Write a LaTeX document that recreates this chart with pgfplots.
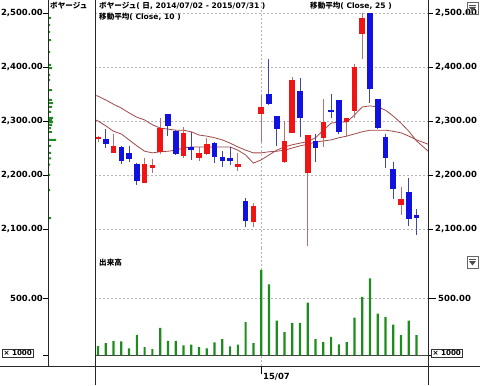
\documentclass[border=0pt]{standalone}
\usepackage{pgfplots}
\pgfplotsset{compat=1.18}
\usepackage{pgfplotstable}
\usepackage{fontspec}
\setmainfont{DejaVu Sans}
\newfontfamily\jp{Noto Sans CJK JP}
\definecolor{cred}{HTML}{F01414}
\definecolor{cblue}{HTML}{1212E0}
\definecolor{wred}{HTML}{B87070}
\definecolor{wblue}{HTML}{4048A0}
\definecolor{macol}{HTML}{A04848}
\definecolor{vgreen}{HTML}{1E8C1E}
\definecolor{gridc}{HTML}{B4B4B4}
\definecolor{basec}{HTML}{3A4A3A}

% red (up) candles: i open high low close
\pgfplotstableread{
i open high low close
0 2266 2273 2262 2271
2 2241 2276 2240 2254
6 2185 2231 2185 2220
7 2213 2230 2204 2219
8 2243 2306 2239 2287
11 2235 2289 2231 2278
13 2231 2252 2226 2241
14 2239 2269 2237 2257
18 2215 2241 2207 2220
20 2113 2148 2104 2143
21 2313 2348 2261 2326
24 2224 2300 2222 2263
25 2278 2381 2278 2376
27 2204 2274 2069 2274
29 2269 2341 2252 2298
32 2298 2306 2270 2306
33 2319 2406 2306 2400
34 2461 2500 2415 2491
39 2144 2178 2126 2156
}\redc
% blue (down) candles
\pgfplotstableread{
i open high low close
1 2267 2285 2250 2257
3 2252 2254 2220 2226
4 2241 2254 2224 2230
5 2220 2222 2181 2189
9 2313 2313 2272 2291
10 2281 2283 2237 2239
12 2252 2280 2228 2246
15 2259 2261 2222 2233
16 2233 2244 2215 2226
17 2231 2252 2219 2226
19 2152 2157 2104 2115
22 2350 2415 2330 2331
23 2309 2309 2254 2285
26 2356 2380 2270 2306
28 2263 2276 2224 2250
30 2320 2350 2306 2318
31 2339 2339 2276 2280
35 2500 2500 2333 2359
36 2341 2341 2285 2287
37 2270 2276 2213 2231
38 2211 2224 2156 2174
40 2169 2194 2106 2119
41 2126 2137 2089 2120
}\bluec
\pgfplotstableread{
i vol
0 78
1 105
2 125
3 119
4 58
5 177
6 70
7 52
8 238
9 125
10 125
11 84
12 90
13 70
14 58
15 110
16 140
17 76
18 90
19 288
20 105
21 747
22 619
23 302
24 200
25 282
26 282
27 459
28 140
29 113
30 160
31 93
32 113
33 328
34 509
35 672
36 363
37 334
38 267
39 174
40 302
41 174
}\volt

\newcommand{\tf}{\fontsize{8.5}{10}\selectfont\bfseries}
\newcommand{\hf}{\fontsize{7.6}{9}\selectfont\bfseries}

\pgfplotsset{
  gridline/.style={draw=gridc, dash pattern=on 2bp off 2bp, line width=0.6bp},
  panel/.style={scale only axis, axis line style={draw=none},
    tick align=outside, major tick length=5bp,
    tick style={draw=black, line width=0.7bp},
    yticklabel style={font=\tf, inner sep=0pt}},
}

\begin{document}
\begin{tikzpicture}[x=1bp,y=1bp]
\useasboundingbox (0,0) rectangle (480,385);

% ---------- price pane ----------
\begin{axis}[panel, at={(95bp,137bp)}, anchor=south west,
  width=333bp, height=248bp,
  xmin=-0.386, xmax=42.47, ymin=2064.8, ymax=2524.1,
  ytick={2100,2200,2300,2400,2500},
  yticklabels={{2,100.00},{2,200.00},{2,300.00},{2,400.00},{2,500.00}},
  ytick pos=right, yticklabel style={anchor=west, xshift=2bp},
  xtick={21}, xticklabels={}, x tick style={draw=none},
  xmajorgrids, ymajorgrids, grid style={gridline}, clip=true]
% MA25
\addplot[color=macol, line width=0.8bp, mark=none] coordinates {
(-0.5,2348) (0,2346) (1,2339) (2,2331) (3,2324) (4,2315) (5,2307) (6,2302)
(7,2293) (8,2287) (9,2285) (10,2283) (11,2283) (12,2280) (13,2274) (14,2272)
(15,2269) (16,2265) (17,2259) (18,2252) (19,2246) (20,2241) (21,2241) (22,2243)
(23,2244) (24,2246) (25,2250) (26,2254) (27,2257) (28,2261) (29,2263) (30,2265)
(31,2269) (32,2272) (33,2276) (34,2280) (35,2283) (36,2283) (37,2283) (38,2281)
(39,2278) (40,2272) (41,2265) (42.5,2257)};
% MA10
\addplot[color=macol, line width=0.8bp, mark=none] coordinates {
(-0.5,2303) (0,2300) (1,2291) (2,2281) (3,2276) (4,2265) (5,2254) (6,2244)
(7,2241) (8,2243) (9,2244) (10,2246) (11,2250) (12,2252) (13,2252) (14,2252)
(15,2252) (16,2252) (17,2252) (18,2246) (19,2237) (20,2222) (21,2228) (22,2237)
(23,2246) (24,2252) (25,2256) (26,2259) (27,2262) (28,2269) (29,2283) (30,2296)
(31,2298) (32,2298) (33,2311) (34,2326) (35,2328) (36,2326) (37,2320) (38,2309)
(39,2296) (40,2281) (41,2263) (42.5,2244)};
% wicks
\addplot[draw=none, mark=none, forget plot,
  error bars/.cd, y dir=both, y explicit, error mark=none,
  error bar style={draw=wred, solid, line width=1bp}]
  table[x=i, y expr={(\thisrow{high}+\thisrow{low})/2},
        y error expr={(\thisrow{high}-\thisrow{low})/2}] {\redc};
\addplot[draw=none, mark=none, forget plot,
  error bars/.cd, y dir=both, y explicit, error mark=none,
  error bar style={draw=wblue, solid, line width=1bp}]
  table[x=i, y expr={(\thisrow{high}+\thisrow{low})/2},
        y error expr={(\thisrow{high}-\thisrow{low})/2}] {\bluec};
% bodies
\addplot[draw=none, mark=none, forget plot,
  error bars/.cd, y dir=both, y explicit, error mark=none,
  error bar style={draw=cred, solid, line width=5.6bp}]
  table[x=i, y expr={(\thisrow{open}+\thisrow{close})/2},
        y error expr={max(abs(\thisrow{close}-\thisrow{open})/2,1.3)}] {\redc};
\addplot[draw=none, mark=none, forget plot,
  error bars/.cd, y dir=both, y explicit, error mark=none,
  error bar style={draw=cblue, solid, line width=5.6bp}]
  table[x=i, y expr={(\thisrow{open}+\thisrow{close})/2},
        y error expr={max(abs(\thisrow{close}-\thisrow{open})/2,1.3)}] {\bluec};
\end{axis}

% ---------- volume pane ----------
\begin{axis}[panel, at={(95bp,19bp)}, anchor=south west,
  width=333bp, height=118bp,
  xmin=-0.386, xmax=42.47, ymin=-96.5, ymax=938.6,
  ytick={0,500}, yticklabels={,500.00},
  ytick pos=right, yticklabel style={anchor=west, xshift=2bp},
  xtick={21}, xticklabels={}, xtick pos=left, major tick length=8bp,
  xmajorgrids, ymajorgrids, grid style={gridline}]
\draw[basec, line width=0.9bp] (axis cs:-0.386,0) -- (axis cs:42.47,0);
\addplot[ybar, bar width=2.2bp, fill=vgreen, draw=none] table[x=i, y=vol] {\volt};
\end{axis}

% ---------- left panels ----------
\begin{axis}[panel, at={(48bp,137bp)}, anchor=south west,
  width=47bp, height=248bp,
  xmin=0, xmax=47, ymin=2064.8, ymax=2524.1,
  ytick={2100,2200,2300,2400,2500},
  yticklabels={{2,100.00},{2,200.00},{2,300.00},{2,400.00},{2,500.00}},
  ytick pos=left, yticklabel style={anchor=east},
  xtick=\empty]
\addplot[xbar, bar width=2bp, fill=vgreen, draw=none] coordinates {
(3,2491) (2,2478) (2,2465) (3,2450) (2,2428) (3,2404) (4,2398) (2,2385)
(2,2376) (4,2357) (4,2339) (5,2333) (4,2326) (3,2317) (5,2306) (4,2302)
(5,2298) (4,2293) (3,2287) (4,2280) (8,2265) (3,2254) (3,2241) (3,2231)
(2,2219) (2,2200) (2,2172) (3,2120)};
\end{axis}
\begin{axis}[panel, at={(48bp,19bp)}, anchor=south west,
  width=47bp, height=118bp,
  xmin=0, xmax=47, ymin=-96.5, ymax=938.6,
  ytick={0,500}, yticklabels={,500.00},
  ytick pos=left, yticklabel style={anchor=east},
  xtick=\empty]
\end{axis}

% ---------- frame lines ----------
\draw[black!85, line width=0.8bp] (95,0) -- (95,385);
\draw[black!85, line width=0.8bp] (428,0) -- (428,385);
\draw[black!85, line width=0.8bp] (48,19) -- (48,385);
\draw[black!85, line width=0.8bp] (0,19) -- (480,19);

% ---------- texts ----------
\node[anchor=west, inner sep=0pt] at (50,379) {\hf\jp ボヤージュ};
\node[anchor=west, inner sep=0pt] at (99,379) {\hf{\jp ボヤージュ}( {\jp 日}, 2014/07/02 - 2015/07/31 )};
\node[anchor=west, inner sep=0pt] at (99,368) {\hf{\jp 移動平均}( Close, 10 )};
\node[anchor=west, inner sep=0pt] at (310,379) {\hf{\jp 移動平均}( Close, 25 )};
\node[anchor=west, inner sep=0pt] at (99,122) {\hf\jp 出来高};
\node[anchor=west, inner sep=0pt] at (263,8) {\tf 15/07};

\node[draw=black!80, fill=white, anchor=west, inner sep=1.2bp, line width=0.6bp] at (2,32) {\fontsize{7.2}{8}\selectfont\bfseries × 1000};
\node[draw=black!80, fill=white, anchor=west, inner sep=1.2bp, line width=0.6bp] at (431,32) {\fontsize{7.2}{8}\selectfont\bfseries × 1000};

% dropdown icons
\draw[black!60, line width=0.6bp] (467,371) rectangle (478,383);
\fill[black!70] (469,378) -- (476,378) -- (472.5,373.5) -- cycle;
\draw[black!70, line width=0.6bp] (469,380) -- (476,380);
\draw[black!60, line width=0.6bp] (467,117) rectangle (478,129);
\fill[black!70] (469,124) -- (476,124) -- (472.5,119.5) -- cycle;
\draw[black!70, line width=0.6bp] (469,126) -- (476,126);
\end{tikzpicture}
\end{document}
